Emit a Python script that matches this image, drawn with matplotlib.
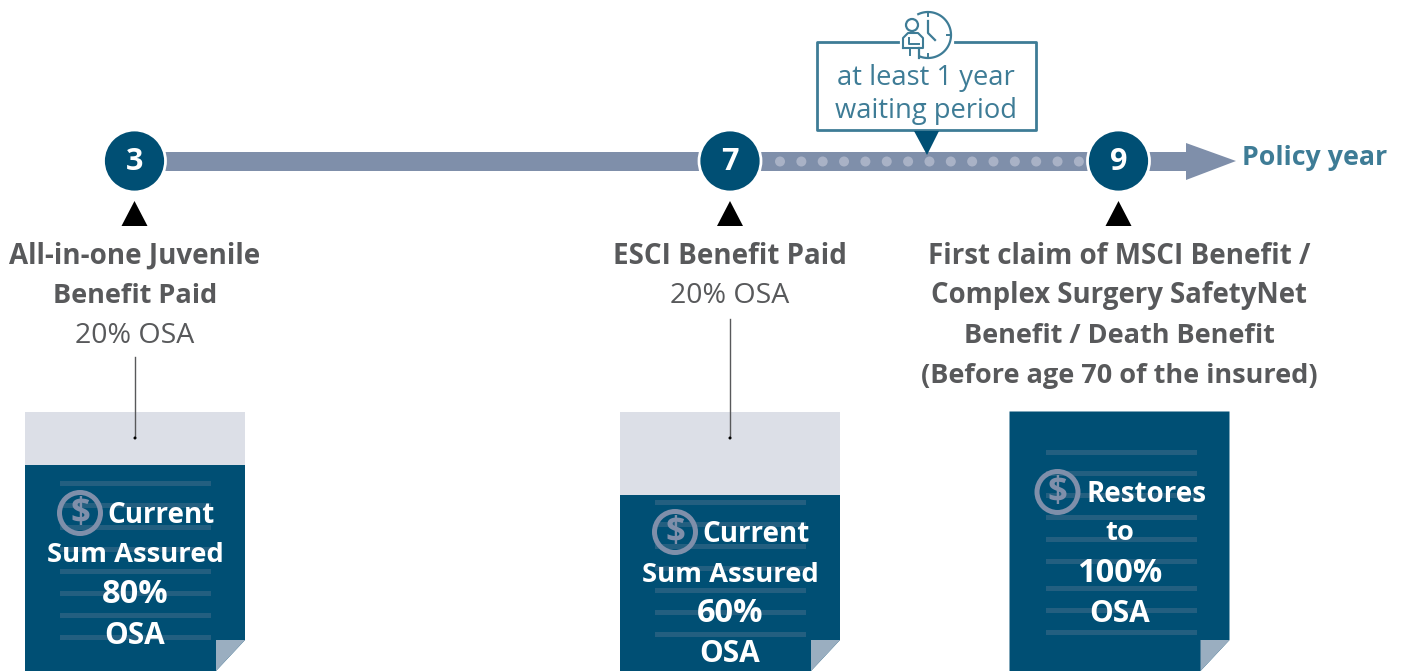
import numpy as np
import matplotlib
matplotlib.use("Agg")
import matplotlib.pyplot as plt
from matplotlib.patches import Circle, Polygon, Rectangle

plt.rcParams['font.family'] = ['Open Sans', 'DejaVu Sans']

# contenu du schema
years = ["3", "7", "9"]
year_x = [134.5, 730, 1118.5]
page_x = [25, 620, 1009.5]
page_fill_top = [465, 495, 411.5]
page_text = [["Current", "Sum Assured", "80%", "OSA"],
             ["Current", "Sum Assured", "60%", "OSA"],
             ["Restores", "to", "100%", "OSA"]]
waiting_text = ["at least 1 year", "waiting period"]

NAVY = "#004F74"
BAR = "#7F8FAA"
DOT = "#A9B2C6"
TEAL = "#3E7C96"
GREY = "#58595B"
PALE = "#DCDFE7"
FOLD = "#9AAEC0"
STRIPE = "#235F80"
FS = 20
FS_REG = 20.5

fig = plt.figure(figsize=(14.01, 6.71), dpi=100)
ax = fig.add_axes([0, 0, 1, 1])
ax.set_xlim(0, 1401)
ax.set_ylim(671, 0)
ax.axis("off")

# barre de temps + fleche
ax.add_patch(Rectangle((160, 152), 1030, 19, fc=BAR, ec="none", zorder=1))
ax.add_patch(Polygon([(1186, 143), (1236, 161), (1186, 180)], fc=BAR, ec="none", zorder=1))
for x in np.arange(780, 1090, 21.35):
    ax.add_patch(Circle((x, 161.5), 5, fc=DOT, ec="none", zorder=2))

ax.text(1242, 158, "Policy year", color=TEAL, fontsize=19.3, fontweight="bold", va="center", ha="left")

# cercles des annees
for lab, x in zip(years, year_x):
    ax.add_patch(Circle((x, 161), 31, fc=NAVY, ec="white", lw=2, zorder=3))
    ax.text(x, 162, lab, color="white", fontsize=22, fontweight="bold", ha="center", va="center", zorder=4)
    ax.add_patch(Polygon([(x - 13, 226), (x + 13, 226), (x, 201)], fc="black", ec="none"))

# titres
def lines(x, rows):
    for y, txt, weight, size in rows:
        ax.text(x, y + 2, txt, color=GREY, fontsize=size, fontweight=weight, ha="center", va="center")

lines(135, [(254, "All-in-one Juvenile", "bold", FS), (294, "Benefit Paid", "bold", 19.5), (334, "20% OSA", "normal", FS_REG)])
lines(730, [(254, "ESCI Benefit Paid", "bold", FS), (294, "20% OSA", "normal", FS_REG)])
lines(1119, [(254, "First claim of MSCI Benefit /", "bold", FS),
             (294, "Complex Surgery SafetyNet", "bold", 19.8),
             (334, "Benefit / Death Benefit", "bold", 19.5),
             (374, "(Before age 70 of the insured)", "bold", 19.5)])

# pages
stripes = [[483, 505, 527, 549, 571, 593, 615, 637],
           [502, 524, 546, 568, 590, 612, 634],
           [452, 473, 495, 517, 539, 561, 588, 610, 632]]
text_y = [[515.5, 555.5, 594.5, 635.5], [534.5, 574.5, 613.5, 654.5], [494.5, 533.5, 573.5, 614.5]]
for i, px in enumerate(page_x):
    w = 220
    top = page_fill_top[i]
    if top > 412:
        ax.add_patch(Rectangle((px, 412), w, top - 412, fc=PALE, ec="none", zorder=1))
    ax.add_patch(Polygon([(px, top), (px + w, top), (px + w, 640), (px + w - 29, 671), (px, 671)],
                         fc=NAVY, ec="none", zorder=1))
    ax.add_patch(Polygon([(px + w - 29, 640), (px + w, 640), (px + w - 29, 671)], fc=FOLD, ec="none", zorder=2))
    for y in stripes[i]:
        ax.add_patch(Rectangle((px + 35 + (1 if i == 2 else 0), y - 2.5), 151, 5, fc=STRIPE, ec="none", zorder=2))
    cx = px + 110
    t = page_text[i]
    ic_x = px + 55 if i < 2 else px + 48
    ic_y = text_y[i][0] - 2.5
    ax.add_patch(Circle((ic_x, ic_y), 20.5, fc="none", ec=BAR, lw=3.6, zorder=3))
    ax.text(ic_x, ic_y + 1, "$", color=BAR, fontsize=25, fontweight="bold", ha="center", va="center", zorder=3)
    first_x = px + 136 if i < 2 else px + 137
    ax.text(first_x, text_y[i][0], t[0], color="white", fontsize=FS, fontweight="bold", ha="center", va="center", zorder=4)
    ax.text(cx, text_y[i][1], t[1], color="white", fontsize=19.7, fontweight="bold", ha="center", va="center", zorder=4)
    ax.text(cx, text_y[i][2], t[2], color="white", fontsize=23.5, fontweight="bold", ha="center", va="center", zorder=4)
    ax.text(cx, text_y[i][3], t[3], color="white", fontsize=21.5, fontweight="bold", ha="center", va="center", zorder=4)

# traits de rappel
for x, y0 in [(135, 357), (730, 319)]:
    ax.plot([x, x], [y0, 437], color=GREY, lw=1, zorder=5)
    ax.add_patch(Circle((x, 438), 1.5, fc="black", ec="none", zorder=5))

# boite delai d'attente
ax.plot([898, 817, 817, 1036, 1036, 955], [42, 42, 130, 130, 42, 42], color=TEAL, lw=2, zorder=3)
ax.add_patch(Polygon([(914, 131), (939, 131), (927, 155)], fc=NAVY, ec="none", zorder=3))
for y, txt in zip([78, 111], waiting_text):
    ax.text(926, y, txt, color=TEAL, fontsize=19.7, ha="center", va="center")

# icone horloge + personne
t = np.radians(np.arange(-115, 112, 3))
ax.plot(928 + 23 * np.cos(t), 35 + 23 * np.sin(t), color=TEAL, lw=1.6)
ax.plot([928, 928, 935], [21, 33, 40], color=TEAL, lw=1.6)
for x0, y0, x1, y1 in [(928, 12, 928, 16), (928, 54, 928, 58), (947, 35, 951, 35)]:
    ax.plot([x0, x1], [y0, y1], color=TEAL, lw=1.4)
ax.add_patch(Circle((912, 25), 6, fc="white", ec=TEAL, lw=1.6, zorder=4))
ax.plot([903, 903, 908, 918, 923, 923, 903], [48, 38, 33, 33, 38, 48, 48], color=TEAL, lw=1.5, zorder=4)
ax.plot([909, 909, 919], [38, 44, 44], color=TEAL, lw=1.4, zorder=4)
ax.plot([919, 919], [48, 58], color=TEAL, lw=1.6, zorder=4)
ax.plot([910, 910], [48, 55], color=TEAL, lw=1.4, zorder=4)

fig.savefig("out.png", dpi=100, facecolor="white")
